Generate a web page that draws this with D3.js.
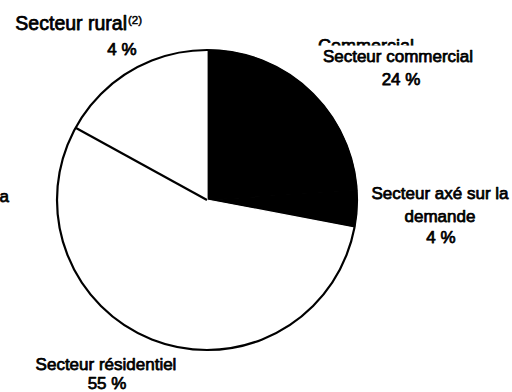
<!DOCTYPE html>
<html>
<head>
<meta charset="utf-8">
<script src="https://cdn.jsdelivr.net/npm/d3@7"></script>
<style>
html,body{margin:0;padding:0;background:#fff;}
svg{display:block;}
text{font-family:"Liberation Sans",Arial,sans-serif;font-weight:normal;fill:#000;stroke:#000;stroke-width:0.75px;stroke-linejoin:round;}
</style>
</head>
<body>
<svg id="chart" width="512" height="392"></svg>
<script>
// Data (clockwise from 12 o'clock)
const categories = ["Secteur commercial", "Secteur axé sur la demande", "Secteur résidentiel", "Autre", "Secteur rural"];
const values = [24, 4, 55, 13, 4];
const fills = ["#000", "#000", "#fff", "#fff", "#fff"];
const valueLabels = ["24 %", "4 %", "55 %", "", "4 %"];

const cx = 207, cy = 200, R = 150;
const svg = d3.select("#chart");

const pie = d3.pie().sort(null).value(d => d.v).startAngle(0).endAngle(2 * Math.PI);
const arcs = pie(categories.map((c, i) => ({c, v: values[i], f: fills[i]})));
const arc = d3.arc().innerRadius(0).outerRadius(R);

const g = svg.append("g").attr("transform", `translate(${cx},${cy})`);
g.selectAll("path.slice").data(arcs).enter().append("path")
  .attr("class", "slice")
  .attr("d", arc)
  .attr("fill", d => d.data.f)
  .attr("stroke", d => d.data.f)
  .attr("stroke-width", 1.2)
  .attr("stroke-linejoin", "round");

// Visible radial divider between residential and the next white slice
const divAngle = arcs[2].endAngle;
g.append("line")
  .attr("x1", 0).attr("y1", 0)
  .attr("x2", R * Math.sin(divAngle)).attr("y2", -R * Math.cos(divAngle))
  .attr("stroke", "#000").attr("stroke-width", 2.2);

// Outline
g.append("circle").attr("r", R).attr("fill", "none").attr("stroke", "#000").attr("stroke-width", 2.2);

const FS = "17px";
function line(txt, x, y, anchor, size) {
  return svg.append("text").attr("text-anchor", anchor || "middle")
    .style("font-size", size || FS).attr("x", x).attr("y", y).text(txt);
}

// Rural
line(categories[4], 127, 30, "end", "19.5px");
line("(2)", 128, 24, "start", "11.5px").style("stroke-width", "0.5px");
line(valueLabels[4], 122, 55);

// Clipped remnant text above commercial label
svg.append("clipPath").attr("id", "clipTop").append("rect")
  .attr("x", 300).attr("y", 30).attr("width", 140).attr("height", 15.5);
svg.append("text").attr("clip-path", "url(#clipTop)").style("font-size", "18px")
  .attr("x", 318).attr("y", 52).text("Commercial");

// Commercial
line(categories[0], 398, 62);
line(valueLabels[0], 401, 85);

// Demand
line("Secteur axé sur la", 440, 199);
line("demande", 440, 222);
line(valueLabels[1], 441, 243);

// Residential
line(categories[2], 106, 370);
line(valueLabels[2], 107, 389);

// Left label fragment (rest lies beyond the left edge)
line("la", 9, 202, "end");
</script>
</body>
</html>
